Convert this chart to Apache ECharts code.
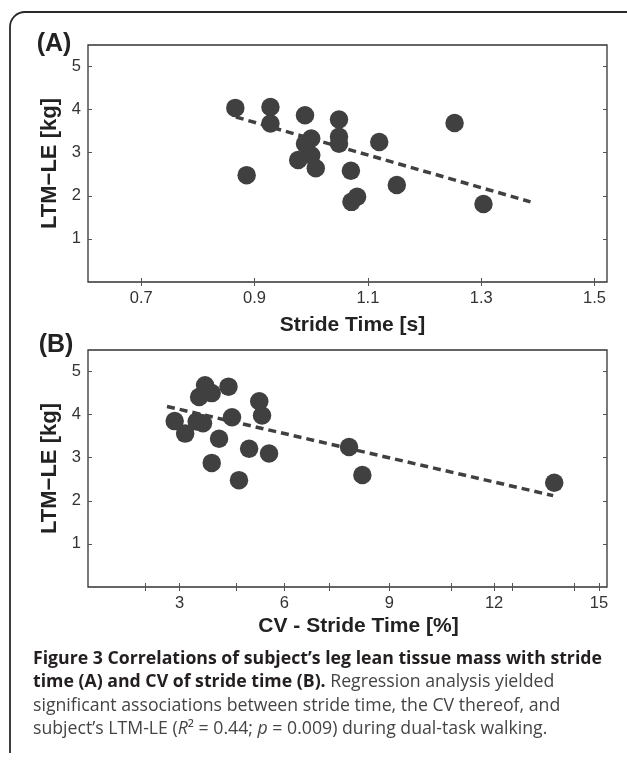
<!DOCTYPE html>
<html><head><meta charset="utf-8">
<script src="https://cdn.jsdelivr.net/npm/echarts@6/dist/echarts.min.js"></script>
<style>html,body{margin:0;padding:0;background:#fff}#c{width:627px;height:761px}</style>
</head><body><div id="c"></div>
<script>
// Panel A: stride time [s] vs LTM-LE [kg]
const strideTime = [0.866, 0.886, 0.928, 0.928, 0.989, 1.000, 0.989, 1.000, 0.977, 1.008, 1.049, 1.049, 1.049, 1.120, 1.070, 1.071, 1.081, 1.151, 1.253, 1.304];
const ltmA       = [4.04, 2.48, 4.06, 3.68, 3.87, 3.33, 3.21, 2.94, 2.83, 2.64, 3.77, 3.37, 3.21, 3.25, 2.58, 1.86, 1.98, 2.25, 3.69, 1.81];
// Panel B: CV of stride time [%] vs LTM-LE [kg]
const cvStride = [2.86, 3.16, 3.56, 3.73, 3.92, 3.49, 3.67, 4.40, 4.50, 4.13, 3.92, 4.70, 4.99, 5.28, 5.36, 5.56, 7.85, 8.23, 13.72];
const ltmB     = [3.85, 3.56, 4.41, 4.68, 4.50, 3.84, 3.80, 4.65, 3.94, 3.44, 2.88, 2.48, 3.21, 4.31, 3.98, 3.10, 3.25, 2.60, 2.42];
// Regression lines (end points)
const fitAx = [0.867, 1.387], fitAy = [3.83, 1.86];
const fitBx = [2.64, 13.69], fitBy = [4.19, 2.12];
// Ticks
const xTicksA = [0.7, 0.9, 1.1, 1.3, 1.5];
const xTicksB = [3, 6, 9, 12, 15];
const xExtraTicksB = [2.03, 4.61, 7.27, 10.78, 12.52, 14.30];
const yTicks = [1, 2, 3, 4, 5];

const AX = 'Liberation Sans, Arial, sans-serif';
const DARK = '#404040';
const CAP = 17.7;
const chart = echarts.init(document.getElementById('c'), null, {renderer: 'canvas'});

function pairs(xs, ys) { return xs.map((x, i) => [x, ys[i]]); }

function xAxes(gi, min, max, labels, ticks, name, gap, shift) {
  return [
    {gridIndex: gi, type: 'value', min: min, max: max, position: 'bottom',
     name: name, nameLocation: 'middle', nameGap: gap,
     nameTextStyle: {fontFamily: AX, fontWeight: 'bold', fontSize: 21, color: '#222', padding: [0, 0, 0, shift]},
     axisLine: {show: false}, splitLine: {show: false},
     axisTick: {show: true, inside: true, length: 4, customValues: ticks, lineStyle: {color: '#555', width: 1}},
     axisLabel: {customValues: labels, fontFamily: AX, fontSize: 16.5, color: '#333', margin: 8,
       formatter: v => (Number.isInteger(v) ? String(v) : v.toFixed(1))}},
    {gridIndex: gi, type: 'value', min: min, max: max, position: 'top',
     axisLine: {show: false}, splitLine: {show: false}, axisLabel: {show: false},
     axisTick: {show: true, inside: true, length: 4, customValues: ticks, lineStyle: {color: '#555', width: 1}}}
  ];
}
function yAxes(gi) {
  return [
    {gridIndex: gi, type: 'value', min: 0, max: 5.5, position: 'left',
     name: 'LTM\u2212LE [kg]', nameLocation: 'middle', nameGap: 20, nameRotate: 90,
     nameTextStyle: {fontFamily: AX, fontWeight: 'bold', fontSize: 22, color: '#222'},
     axisLine: {show: false}, splitLine: {show: false},
     axisTick: {show: true, inside: true, length: 4, customValues: yTicks, lineStyle: {color: '#555', width: 1}},
     axisLabel: {customValues: yTicks, fontFamily: AX, fontSize: 16.5, color: '#333', margin: 7}},
    {gridIndex: gi, type: 'value', min: 0, max: 5.5, position: 'right',
     axisLine: {show: false}, splitLine: {show: false}, axisLabel: {show: false},
     axisTick: {show: true, inside: true, length: 4, customValues: yTicks, lineStyle: {color: '#555', width: 1}}}
  ];
}

const ticksB = xTicksB.concat(xExtraTicksB).sort((a, b) => a - b);

const option = {
  backgroundColor: '#fff',
  animation: false,
  grid: [
    {left: 88, top: 45, width: 519, height: 237, show: true, borderColor: '#333', borderWidth: 1.3, backgroundColor: 'transparent'},
    {left: 88, top: 350, width: 519, height: 237, show: true, borderColor: '#333', borderWidth: 1.3, backgroundColor: 'transparent'}
  ],
  xAxis: [].concat(
    xAxes(0, 0.606, 1.522, xTicksA, xTicksA, 'Stride Time [s]', 33, 10),
    xAxes(1, 0.38, 15.23, xTicksB, ticksB, 'CV - Stride Time [%]', 29, 22)
  ),
  yAxis: [].concat(yAxes(0), yAxes(1)),
  series: [
    {type: 'line', xAxisIndex: 0, yAxisIndex: 0, data: pairs(fitAx, fitAy), symbol: 'none',
     lineStyle: {color: DARK, width: 3.5, type: [8, 5]}, z: 1},
    {type: 'scatter', xAxisIndex: 0, yAxisIndex: 0, data: pairs(strideTime, ltmA), symbolSize: 18.5,
     itemStyle: {color: DARK, opacity: 1}, z: 2},
    {type: 'line', xAxisIndex: 2, yAxisIndex: 2, data: pairs(fitBx, fitBy), symbol: 'none',
     lineStyle: {color: DARK, width: 3.5, type: [8, 5]}, z: 1},
    {type: 'scatter', xAxisIndex: 2, yAxisIndex: 2, data: pairs(cvStride, ltmB), symbolSize: 18.5,
     itemStyle: {color: DARK, opacity: 1}, z: 2}
  ],
  graphic: [
    {type: 'rect', silent: true, z: 0, shape: {x: 10, y: 12, width: 700, height: 800, r: 15},
     style: {fill: 'none', stroke: '#2a2a2a', lineWidth: 1.8}},
    {type: 'rect', silent: true, z: 1, shape: {x: 0, y: 753, width: 627, height: 10}, style: {fill: '#fff'}},
    {type: 'text', x: 54, y: 44, style: {text: '(A)', font: 'bold 25px ' + AX, fill: '#222', align: 'center', verticalAlign: 'middle'}},
    {type: 'text', x: 56, y: 345, style: {text: '(B)', font: 'bold 25px ' + AX, fill: '#222', align: 'center', verticalAlign: 'middle'}},
    {type: 'text', x: 33, y: 659, style: {
      text: '{b|Figure 3 Correlations of subject\u2019s leg lean tissue mass with stride}',
      verticalAlign: 'middle',
      rich: {b: {fontFamily: 'Open Sans', fontWeight: 'bold', fontSize: CAP, fill: '#231f20'}}}},
    {type: 'text', x: 33, y: 682, style: {
      text: '{b|time (A) and CV of stride time (B).}{r| Regression analysis yielded}',
      verticalAlign: 'middle',
      rich: {b: {fontFamily: 'Open Sans', fontWeight: 'bold', fontSize: CAP, fill: '#231f20'},
             r: {fontFamily: 'Open Sans', fontSize: CAP, fill: '#444'}}}},
    {type: 'text', x: 33, y: 705.5, style: {
      text: '{r|significant associations between stride time, the CV thereof, and}',
      verticalAlign: 'middle',
      rich: {r: {fontFamily: 'Open Sans', fontSize: CAP, fill: '#444'}}}},
    {type: 'text', x: 33, y: 728.5, style: {
      text: '{r|subject\u2019s LTM-LE (}{i|R}{r|\u00b2 = 0.44; }{i|p}{r| = 0.009) during dual-task walking.}',
      verticalAlign: 'middle',
      rich: {r: {fontFamily: 'Open Sans', fontSize: CAP, fill: '#444'},
             i: {fontFamily: 'Open Sans', fontStyle: 'italic', fontSize: CAP, fill: '#444'}}}}
  ]
};
chart.setOption(option);
</script>
</body></html>
